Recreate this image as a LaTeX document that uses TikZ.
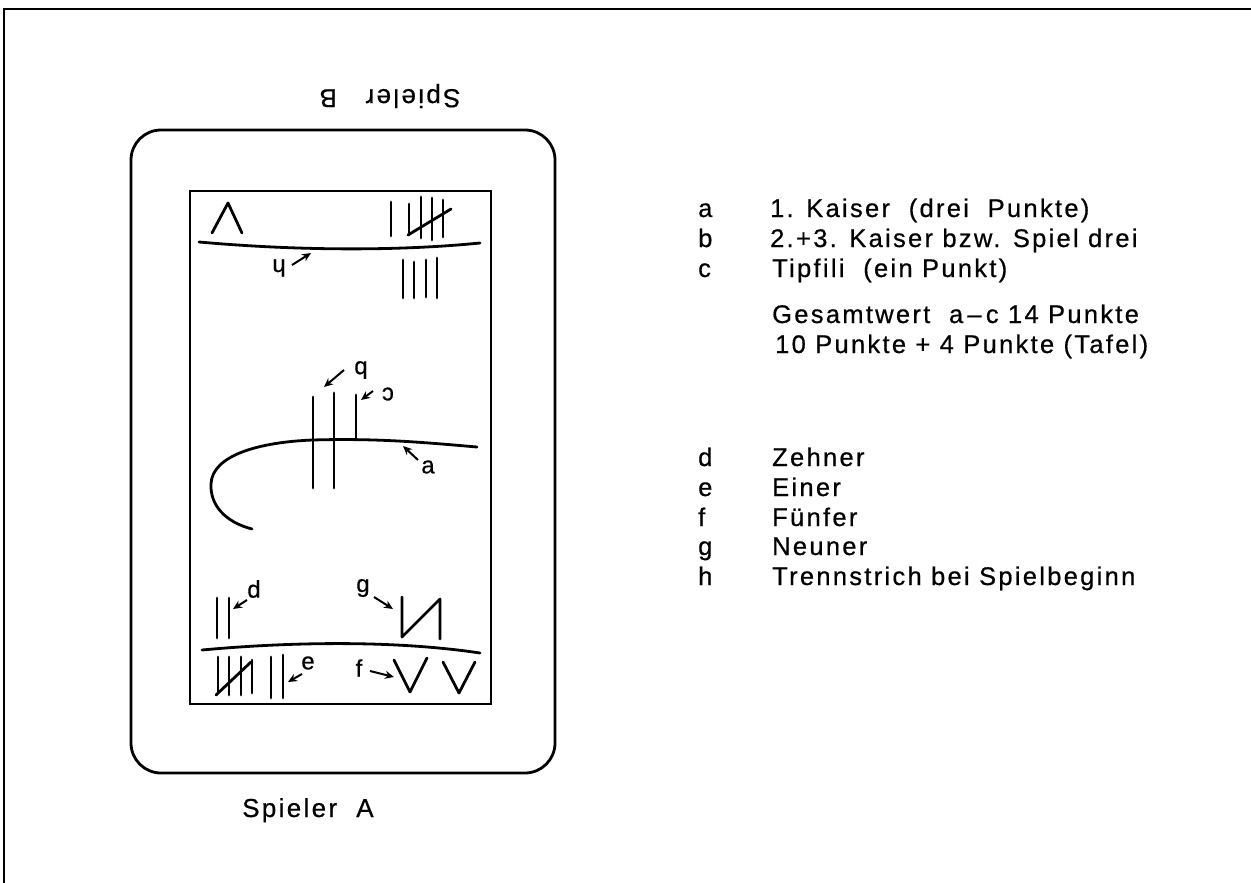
\documentclass[tikz,border=0pt]{standalone}
\usepackage{fontspec}
\setmainfont{Liberation Sans}[LetterSpace=9,FakeBold=0.6]
\usetikzlibrary{arrows.meta}
\begin{document}
\begin{tikzpicture}[x=1pt,y=-1pt,
  frame/.style={line width=2.4pt},
  board/.style={line width=2.8pt},
  stroke/.style={line width=2.8pt, line cap=round, line join=round},
  arr/.style={-{Stealth[length=9pt,width=8pt]}, line width=2pt},
  lbl/.style={inner sep=0pt, font=\fontsize{24}{26}\selectfont},
  legend/.style={anchor=base west, inner sep=0pt, font=\fontsize{25.5}{28}\selectfont}]
\useasboundingbox (0,0) rectangle (1251,883);
% outer frame
\draw[frame] (4,883) -- (4,9) -- (1251,9);
% board
\draw[board, rounded corners=30pt] (131,130) rectangle (555,773);
\draw[board] (190,191) rectangle (491,704);
% ---------- top (Spieler B side) ----------
\draw[stroke] (212,233) -- (228,203) -- (242,233);
\draw[stroke] (391,202) -- (391,236);
\draw[stroke] (409,204) -- (409,235);
\draw[stroke] (421,197) -- (421,238);
\draw[stroke] (432,198) -- (432,240);
\draw[stroke] (443,200) -- (443,237);
\draw[stroke] (408,235) -- (451,209);
\draw[stroke] (199,242) .. controls (300,251) and (400,251) .. (480,243);
\draw[stroke] (403,260) -- (403,298);
\draw[stroke] (414,262) -- (414,298);
\draw[stroke] (426,260) -- (426,297);
\draw[stroke] (437,258) -- (437,298);
\node[lbl, rotate=180] (lh) at (279,268) {h};
\coordinate (h1) at (292,265);
\coordinate (h2) at (311,253);
\draw[arr] (h1) -- (h2);
% ---------- middle ----------
\draw[stroke] (252,529) .. controls (225,522) and (210,505) .. (211,484)
  .. controls (212,455) and (260,442) .. (313,440)
  .. controls (380,438) and (430,443) .. (477,447);
\draw[stroke] (313,397) -- (313,488);
\draw[stroke] (334,393) -- (334,488);
\draw[stroke] (356,395) -- (356,439);
\node[lbl, rotate=180] (lb) at (361,370) {b};
\coordinate (b1) at (344,370);
\coordinate (b2) at (324,387);
\draw[arr] (b1) -- (b2);
\node[lbl, rotate=180] (lc) at (388,394) {c};
\coordinate (c1) at (373,391);
\coordinate (c2) at (361,400);
\draw[arr] (c1) -- (c2);
\node[lbl] (la) at (428,467) {a};
\coordinate (a1) at (418,460);
\coordinate (a2) at (403,446);
\draw[arr] (a1) -- (a2);
% ---------- bottom (Spieler A side) ----------
\draw[stroke] (217,598) -- (217,638);
\draw[stroke] (229,598) -- (229,638);
\node[lbl] (ld) at (254,589) {d};
\coordinate (d1) at (247,600);
\coordinate (d2) at (233,609);
\draw[arr] (d1) -- (d2);
\draw[stroke] (402,597) -- (402,637) -- (440,599) -- (440,639);
\node[lbl] (lg) at (363,588) {g};
\coordinate (g1) at (374,597);
\coordinate (g2) at (393,609);
\draw[arr] (g1) -- (g2);
\draw[stroke] (202,650) .. controls (300,641) and (400,641) .. (480,653);
\draw[stroke] (218,657) -- (218,693);
\draw[stroke] (229,657) -- (229,695);
\draw[stroke] (241,657) -- (241,695);
\draw[stroke] (252,660) -- (252,693);
\draw[stroke] (216,695) -- (251,662);
\draw[stroke] (271,657) -- (271,698);
\draw[stroke] (283,655) -- (283,698);
\node[lbl] (le) at (308,663) {e};
\coordinate (e1) at (302,674);
\coordinate (e2) at (288,682);
\draw[arr] (e1) -- (e2);
\node[lbl] (lf) at (359,668) {f};
\coordinate (f1) at (370,671);
\coordinate (f2) at (394,677);
\draw[arr] (f1) -- (f2);
\draw[stroke] (394,660) -- (410,692) -- (427,658);
\draw[stroke] (443,662) -- (459,693) -- (475,662);
% ---------- player labels ----------
\node[inner sep=0pt, rotate=180, font=\fontsize{26}{28}\selectfont] (pB) at (390,96) {Spieler\ \ \ B};
\node[anchor=base west, inner sep=0pt, font=\fontsize{26}{28}\selectfont] (pA) at (242,817) {Spieler\ \ A};
% ---------- legend ----------
\node[legend] (ka) at (698,217) {a};
\node[legend] (kb) at (698,247) {b};
\node[legend] (kc) at (698,277) {c};
\node[legend] (ta) at (770,217) {1. Kaiser\ \ (drei\ \ Punkte)};
\node[legend] (tb) at (770,247) {2.+3. Kaiser bzw. Spiel drei};
\node[legend] (tc) at (772,277) {Tipfili\ \ (ein Punkt)};
\node[legend] (tg) at (772,323) {Gesamtwert\ \ a\,--\,c 14 Punkte};
\node[legend] (tt) at (775,353) {10 Punkte + 4 Punkte (Tafel)};
\node[legend] (kd) at (698,466) {d};
\node[legend] (ke) at (698,496) {e};
\node[legend] (kf) at (698,526) {f};
\node[legend] (kg) at (698,555) {g};
\node[legend] (kh) at (698,585) {h};
\node[legend] (td) at (772,466) {Zehner};
\node[legend] (te) at (772,496) {Einer};
\node[legend] (tf) at (772,526) {Fünfer};
\node[legend] (tgg) at (772,555) {Neuner};
\node[legend] (th) at (772,585) {Trennstrich bei Spielbeginn};
\end{tikzpicture}
\end{document}
